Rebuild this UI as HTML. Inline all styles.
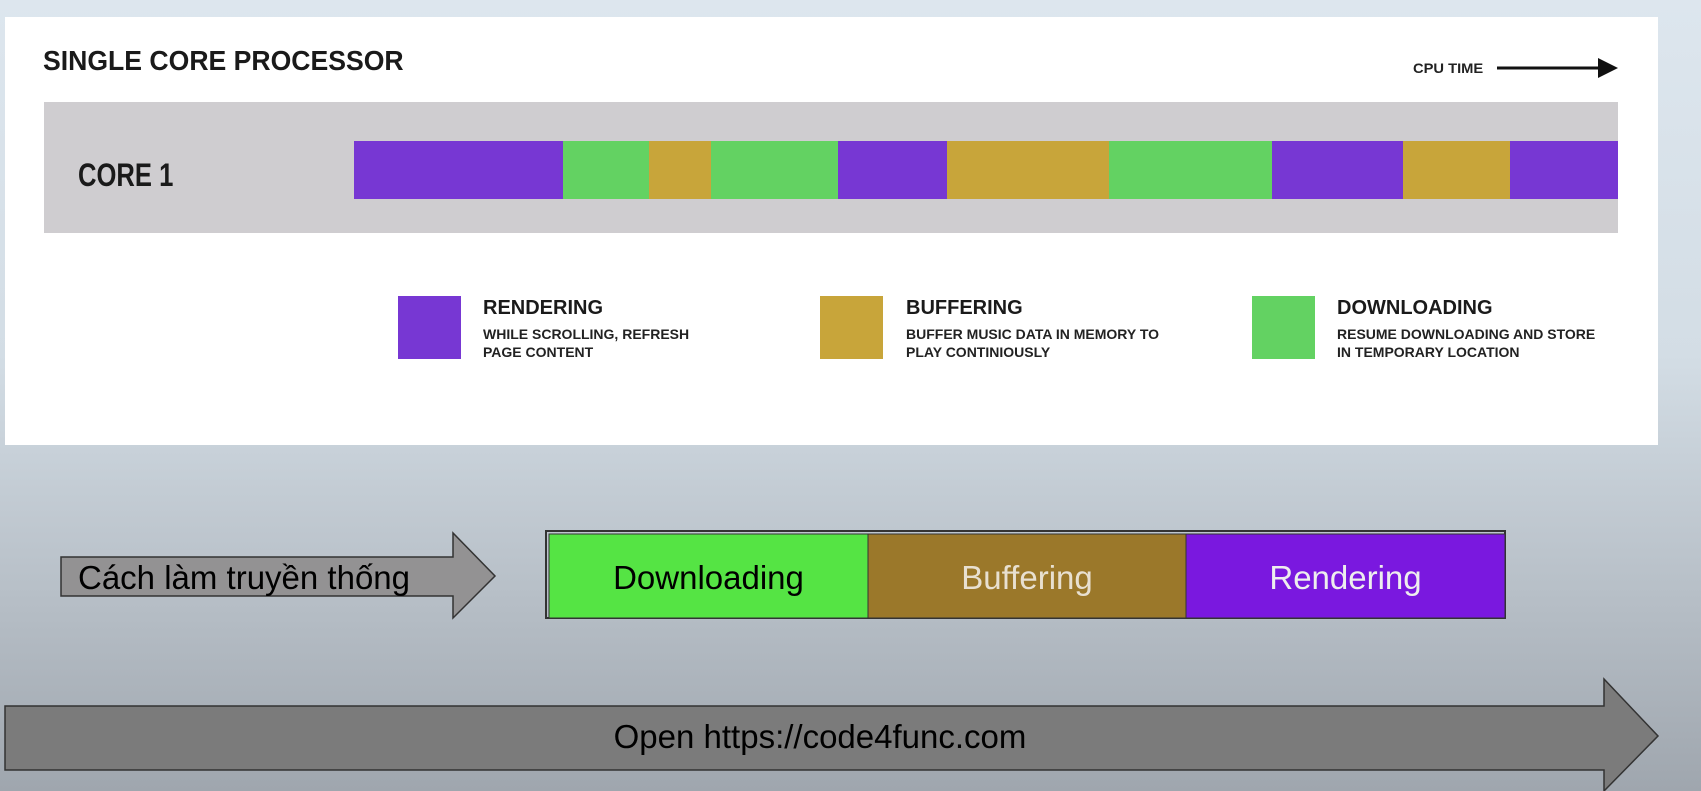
<!DOCTYPE html>
<html><head><meta charset="utf-8"><style>
body{margin:0;width:1701px;height:791px;overflow:hidden;position:relative;font-family:"Liberation Sans","Noto Sans CJK SC",sans-serif;background:linear-gradient(#dde6ee 0%,#d3dde5 45%,#b7bfc7 75%,#9fa6ae 100%);}
.a{position:absolute;white-space:nowrap;}
.n{transform-origin:0 0;}
</style></head><body>
<div class="a" style="left:5px;top:17px;width:1653px;height:428px;background:#fff"></div>
<div class="a n" style="left:43px;top:45px;font-size:28px;font-weight:bold;color:#1a1a1a;transform:scaleX(0.95)">SINGLE CORE PROCESSOR</div>
<div class="a n" style="left:1413px;top:60px;font-size:14px;font-weight:bold;color:#222;transform:scaleX(1.05)">CPU TIME</div>
<svg class="a" style="left:0;top:0" width="1701" height="791">
<line x1="1497" y1="68" x2="1600" y2="68" stroke="#111" stroke-width="3"/>
<polygon points="1598,58 1618,68 1598,78" fill="#111"/>
<rect x="44" y="102" width="1574" height="131" fill="#cfcdd0"/>
<rect x="354" y="141" width="209" height="58" fill="#7737d3"/>
<rect x="563" y="141" width="86" height="58" fill="#63d262"/>
<rect x="649" y="141" width="62" height="58" fill="#c8a53a"/>
<rect x="711" y="141" width="127" height="58" fill="#63d262"/>
<rect x="838" y="141" width="109" height="58" fill="#7737d3"/>
<rect x="947" y="141" width="162" height="58" fill="#c8a53a"/>
<rect x="1109" y="141" width="163" height="58" fill="#63d262"/>
<rect x="1272" y="141" width="131" height="58" fill="#7737d3"/>
<rect x="1403" y="141" width="107" height="58" fill="#c8a53a"/>
<rect x="1510" y="141" width="108" height="58" fill="#7737d3"/>
<rect x="398" y="296" width="63" height="63" fill="#7737d3"/>
<rect x="820" y="296" width="63" height="63" fill="#c8a53a"/>
<rect x="1252" y="296" width="63" height="63" fill="#63d262"/>
<polygon points="61,557 453,557 453,533 495,576 453,618 453,596 61,596" fill="#939293" stroke="#333" stroke-width="1.5"/>
<polygon points="5,706 1604,706 1604,679 1658,736 1604,791 1604,770 5,770" fill="#7b7b7b" stroke="#333" stroke-width="1.5"/>
<rect x="546" y="531" width="959" height="87" fill="none" stroke="#333" stroke-width="2"/>
<rect x="549" y="534" width="319" height="84" fill="#55e444" stroke="#333" stroke-width="1"/>
<rect x="868" y="534" width="318" height="84" fill="#9b782a" stroke="#333" stroke-width="1"/>
<rect x="1186" y="534" width="319" height="84" fill="#7a18df" stroke="#333" stroke-width="1"/>
</svg>
<div class="a n" style="left:78px;top:157px;font-size:32px;font-weight:bold;color:#1a1a1a;transform:scaleX(0.8)">CORE 1</div>
<div class="a" style="left:483px;top:297px;font-size:20px;font-weight:bold;color:#1a1a1a">RENDERING</div>
<div class="a n" style="left:483px;top:325px;font-size:14px;font-weight:bold;line-height:18px;color:#222">WHILE SCROLLING, REFRESH<br>PAGE CONTENT</div>
<div class="a" style="left:906px;top:297px;font-size:20px;font-weight:bold;color:#1a1a1a">BUFFERING</div>
<div class="a n" style="left:906px;top:325px;font-size:14px;font-weight:bold;line-height:18px;color:#222">BUFFER MUSIC DATA IN MEMORY TO<br>PLAY CONTINIOUSLY</div>
<div class="a" style="left:1337px;top:297px;font-size:20px;font-weight:bold;color:#1a1a1a">DOWNLOADING</div>
<div class="a n" style="left:1337px;top:325px;font-size:14px;font-weight:bold;line-height:18px;color:#222">RESUME DOWNLOADING AND STORE<br>IN TEMPORARY LOCATION</div>
<div class="a" style="left:78px;top:559px;font-size:33px;color:#000">Cách làm truyền thống</div>
<div class="a" style="left:549px;top:559px;width:319px;text-align:center;font-size:33px;color:#000">Downloading</div>
<div class="a" style="left:868px;top:559px;width:318px;text-align:center;font-size:33px;color:#e8e0d0">Buffering</div>
<div class="a" style="left:1186px;top:559px;width:319px;text-align:center;font-size:33px;color:#eee">Rendering</div>
<div class="a" style="left:5px;top:718px;width:1630px;text-align:center;font-size:33px;color:#000">Open https://code4func.com</div>
</body></html>
